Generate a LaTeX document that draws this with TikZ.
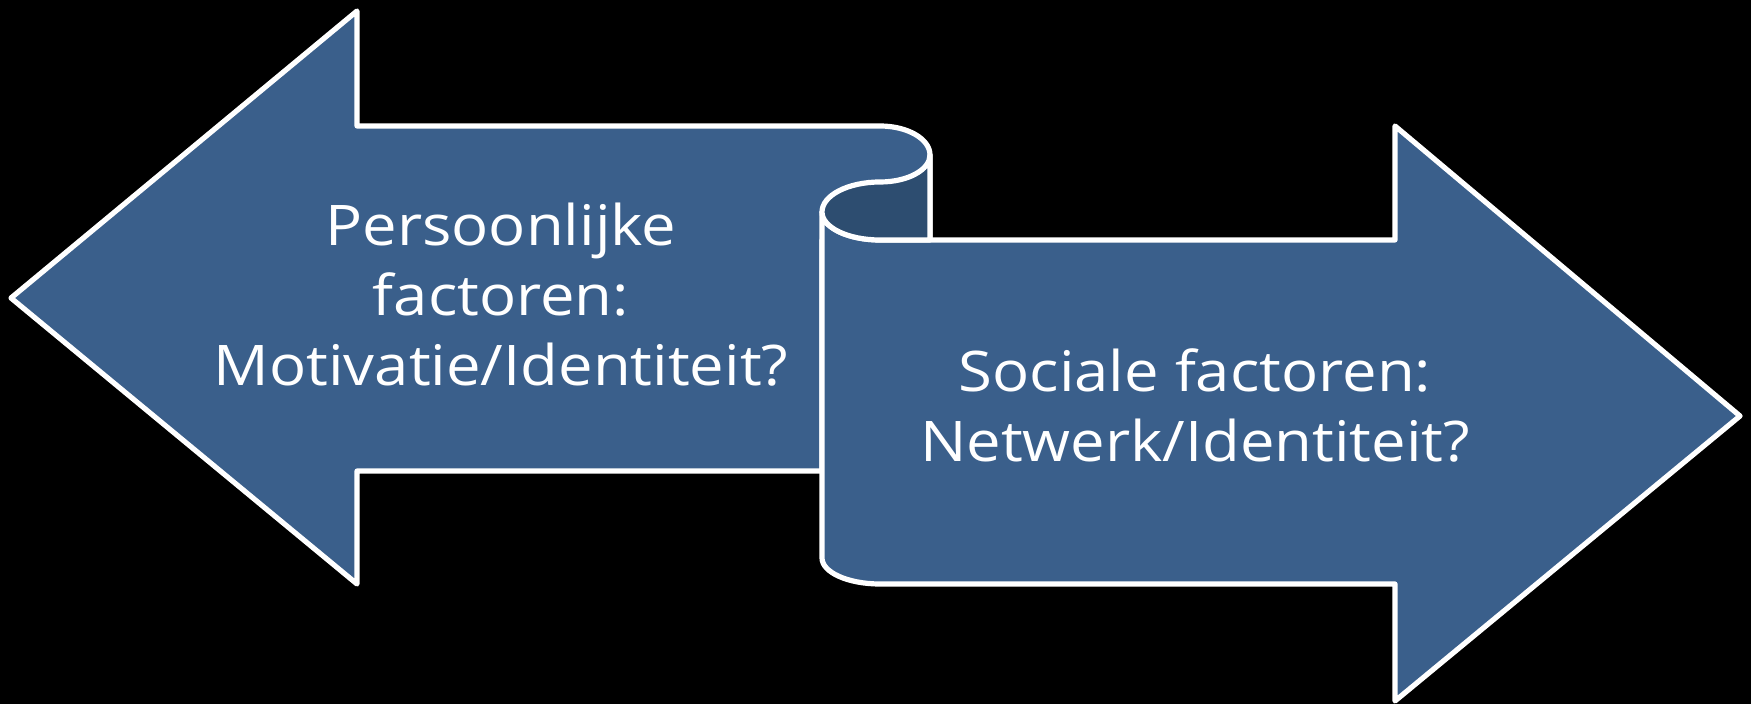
\documentclass[tikz,border=0pt]{standalone}
\usepackage{xcolor}
\usepackage{fontspec}
\setmainfont{Open Sans}[FakeStretch=1.1]
\usepackage{tikz}

\definecolor{arrowblue}{RGB}{58,95,139}
\definecolor{curldark}{RGB}{45,77,112}

\tikzset{
	arrowpart/.style={fill=arrowblue, draw=white, line width=2.6pt, line join=round},
	arrowtext/.style={text=white, align=center, font=\fontsize{28}{35}\selectfont}
}

\begin{document}
\begin{tikzpicture}[x=0.5pt,y=-0.5pt]

\fill[black] (0,0) rectangle (1751,704);

%left arrow
\draw[arrowpart] (11,298) -- (357,11) -- (357,126) -- (880,126)
	arc[start angle=-90, end angle=0, x radius=50, y radius=29]
	-- (930,240) -- (822,240) -- (822,471) -- (357,471) -- (357,584) -- cycle;

%right arrow
\draw[arrowpart] (880,240) -- (1395,240) -- (1395,126) -- (1740,416)
	-- (1395,701) -- (1395,584) -- (880,584)
	arc[start angle=90, end angle=180, x radius=58, y radius=26]
	-- (822,212)
	arc[start angle=180, end angle=90, x radius=58, y radius=28] -- cycle;

%curl
\draw[arrowpart, fill=curldark] (930,155)
	arc[start angle=0, end angle=90, x radius=50, y radius=27]
	arc[start angle=-90, end angle=-180, x radius=58, y radius=30]
	arc[start angle=180, end angle=90, x radius=58, y radius=28]
	-- (930,240) -- cycle;

\node[arrowtext] (pers) at (501,295) {Persoonlijke\\factoren:\\Motivatie/Identiteit?};
\node[arrowtext] (soc) at (1195,405) {Sociale factoren:\\Netwerk/Identiteit?};

\end{tikzpicture}
\end{document}
